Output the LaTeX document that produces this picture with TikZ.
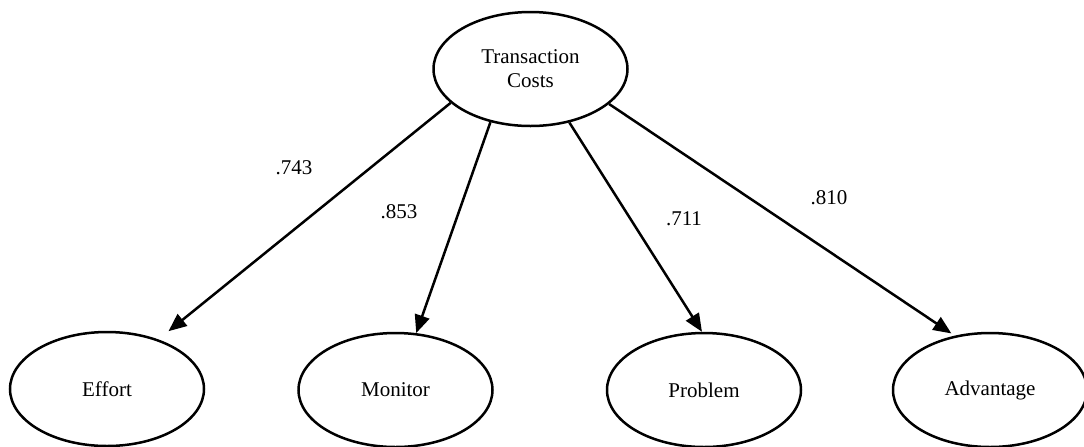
\documentclass[tikz,border=0pt]{standalone}
\usepackage{fontspec}
\setmainfont{Liberation Serif}
\usetikzlibrary{shapes.geometric,arrows.meta}

\tikzset{
  latent/.style={ellipse, draw, line width=1.25pt, minimum width=97pt,
    minimum height=57pt, inner sep=0pt, align=center,
    font=\fontsize{10.5}{12}\selectfont},
  loading/.style={-{Triangle[length=9pt,width=7.5pt]}, line width=1.25pt},
  weight/.style={font=\fontsize{10.5}{12}\selectfont}
}

\begin{document}
\begin{tikzpicture}[x=0.5pt,y=-0.5pt]
  \useasboundingbox (0,0) rectangle (1084,446);

  % latent factor and its indicators
  \node[latent] (tc) at (530.5,69) {Transaction\\Costs};
  \node[latent] (ef) at (107,389) {Effort};
  \node[latent] (mo) at (395.5,390) {Monitor};
  \node[latent] (pr) at (704,390) {Problem};
  \node[latent] (ad) at (990,390) {Advantage};

  % factor loadings
  \draw[loading, shorten >=6.5pt] (tc.203.6) -- (ef.44.5);
  \draw[loading] (tc.233.6) -- (mo.70.5);
  \draw[loading] (tc.306.4) -- (pr.92);
  \draw[loading, shorten >=2pt] (tc.336.2) -- (ad.123);

  % loading values
  \node[weight] (w1) at (294,168) {.743};
  \node[weight] (w2) at (399,212) {.853};
  \node[weight] (w3) at (684,219) {.711};
  \node[weight] (w4) at (829,198) {.810};
\end{tikzpicture}
\end{document}
